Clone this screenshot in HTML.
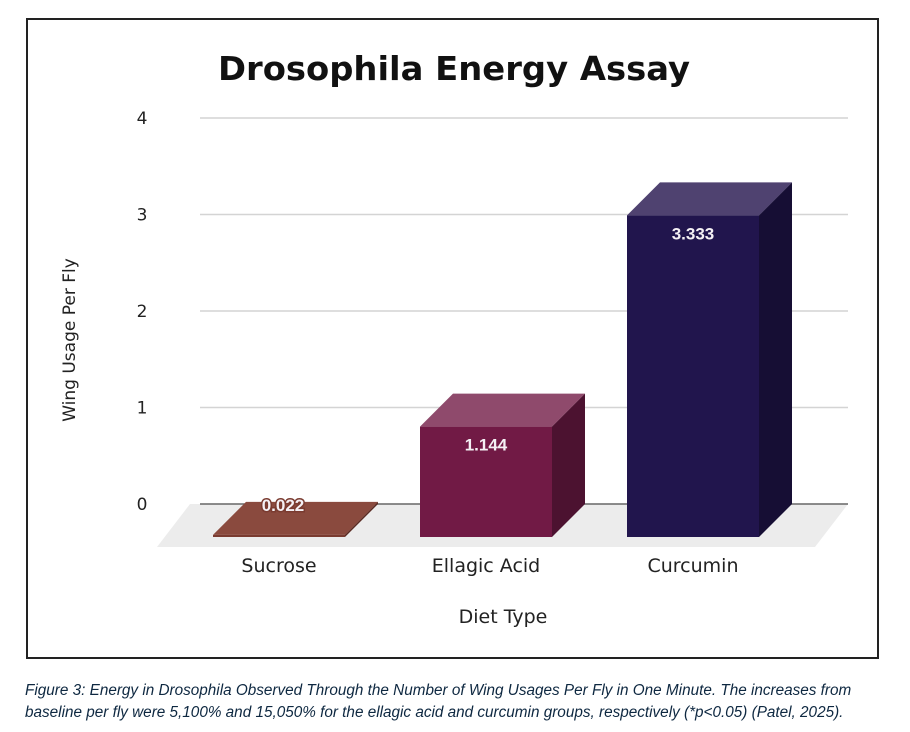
<!DOCTYPE html>
<html><head><meta charset="utf-8"><style>
body{margin:0;background:#fff;width:910px;height:732px;overflow:hidden;font-family:"Liberation Sans",sans-serif}
#frame{position:absolute;left:26px;top:18px;width:853px;height:641px;border:2px solid #222;box-sizing:border-box}
#cap{position:absolute;left:25px;top:680px;font-size:15.3px;font-style:italic;color:#0e2841;line-height:22px;white-space:nowrap}
</style></head><body>
<div id="frame"></div>
<svg id="chart" width="910" height="732" style="position:absolute;left:0;top:0">
<text x="218" y="80" textLength="472" lengthAdjust="spacingAndGlyphs" font-size="33" font-weight="bold" fill="#111" font-family="DejaVu Sans, sans-serif">Drosophila Energy Assay</text>
<text transform="translate(75,340) rotate(-90)" text-anchor="middle" font-size="17" fill="#222" font-family="DejaVu Sans, sans-serif">Wing Usage Per Fly</text>
<text x="503" y="623" text-anchor="middle" font-size="19" fill="#222" font-family="DejaVu Sans, sans-serif">Diet Type</text>
<g id="g"></g>
</svg>
<div id="cap">Figure 3: Energy in Drosophila Observed Through the Number of Wing Usages Per Fly in One Minute. The increases from<br>baseline per fly were 5,100% and 15,050% for the ellagic acid and curcumin groups, respectively (*p&lt;0.05) (Patel, 2025).</div>
<script>
const categories=["Sucrose","Ellagic Acid","Curcumin"];
const values=[0.022,1.144,3.333];
const yTicks=[0,1,2,3,4];
const labels=["0.022","1.144","3.333"];
const colors=[["#7a3b30","#8a4a3e","#5a2a22"],["#711a45","#8f4a6c","#4c1230"],["#21154d","#4f4270","#160e34"]];
const NS="http://www.w3.org/2000/svg";
const g=document.getElementById('g');
const base=537, unit=96.5, D=33, gx0=200, gx1=848;
function y(v){return base-v*unit;}
function xc(i){return 279+i*207;}
function mk(t,a){const e=document.createElementNS(NS,t);for(const k in a)e.setAttribute(k,a[k]);g.appendChild(e);return e;}
const floor=mk('polygon',{points:`${gx0-D-10},${base+10} ${gx1-D},${base+10} ${gx1},${base-D} ${gx0-10},${base-D}`,fill:'#ececec'});


yTicks.forEach(t=>{
  const ly=y(t)-D;
  const l=mk('line',{x1:gx0,x2:gx1,y1:ly,y2:ly,stroke:t===0?'#666':'#d4d4d4','stroke-width':1.5});
  
  
  const tx=mk('text',{x:142,y:ly+6,'text-anchor':'middle','font-size':17,fill:'#222','font-family':'DejaVu Sans, sans-serif'});
  tx.textContent=t;
  
  
});
categories.forEach((c,i)=>{
  const x0=xc(i)-66,x1=xc(i)+66,yt=y(values[i]);
  const f=mk('rect',{x:x0,y:yt,width:x1-x0,height:base-yt,fill:colors[i][0]});
  
  
  const top=mk('polygon',{points:`${x0},${yt} ${x1},${yt} ${x1+D},${yt-D} ${x0+D},${yt-D}`,fill:colors[i][1]});
  
  
  const side=mk('polygon',{points:`${x1},${yt} ${x1+D},${yt-D} ${x1+D},${base-D} ${x1},${base}`,fill:colors[i][2]});
  
  
  const small=(base-yt)<30;
  const vl=mk('text',{x:small?xc(i)+4:xc(i),y:small?base-26:yt+24,'text-anchor':'middle','font-size':17,'font-weight':'bold',fill:'#f4f0f4',stroke:small?colors[i][0]:'none','stroke-width':small?3:0,'paint-order':'stroke'});
  vl.textContent=labels[i];
  
  
  const cl=mk('text',{x:xc(i),y:572,'text-anchor':'middle','font-size':19,fill:'#222','font-family':'DejaVu Sans, sans-serif'});
  cl.textContent=c;
  
  
});
</script>
</body></html>
